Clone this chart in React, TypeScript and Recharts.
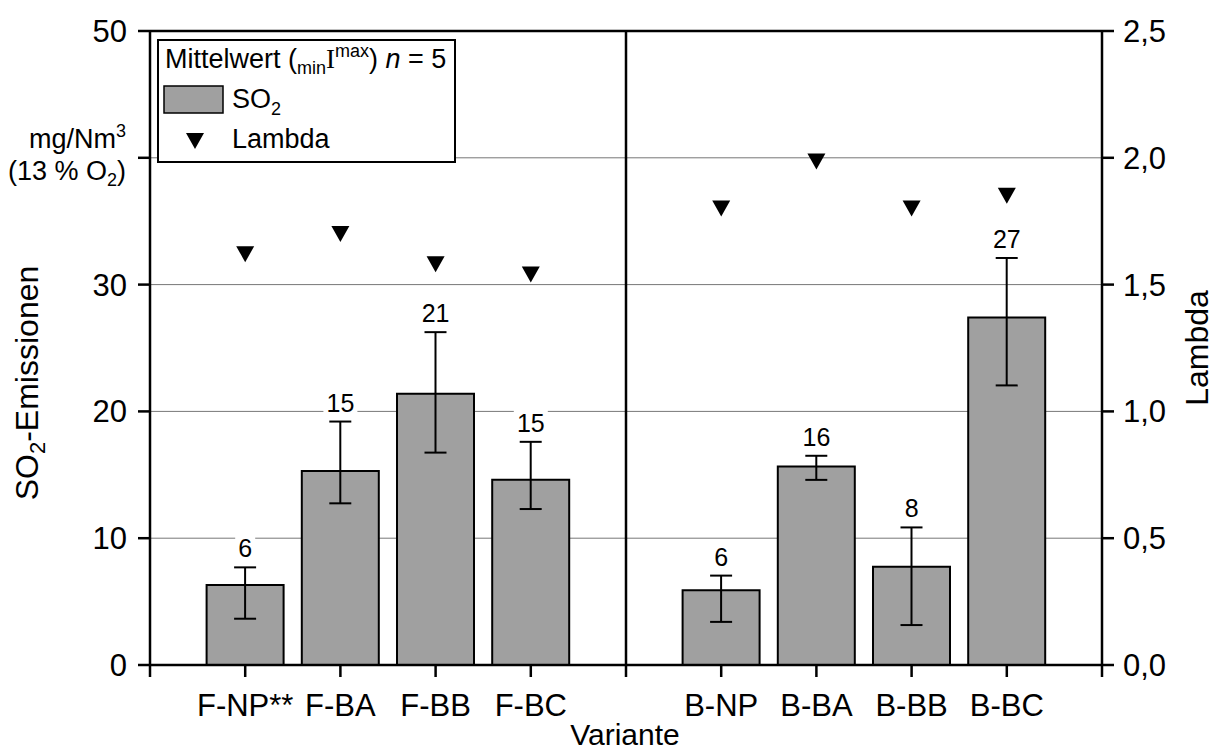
import React from "react";
import {
  Bar,
  CartesianGrid,
  ComposedChart,
  ErrorBar,
  ReferenceLine,
  Scatter,
  XAxis,
  YAxis,
} from "recharts";

const categories = ["F-NP**", "F-BA", "F-BB", "F-BC", "B-NP", "B-BA", "B-BB", "B-BC"];
// slot auf der x-Achse (5 = Trennlinie zwischen F und B)
const slots = [1, 2, 3, 4, 6, 7, 8, 9];
const so2Mean = [6.3, 15.3, 21.4, 14.6, 5.9, 15.65, 7.75, 27.4];
const so2Min = [3.65, 12.75, 16.75, 12.3, 3.4, 14.6, 3.15, 22.05];
const so2Max = [7.7, 19.2, 26.25, 17.6, 7.05, 16.5, 10.85, 32.1];
const barLabels = ["6", "15", "21", "15", "6", "16", "8", "27"];
const lambdaValues = [1.62, 1.7, 1.58, 1.54, 1.8, 1.985, 1.8, 1.85];

const leftTicks = [0, 10, 20, 30, 40, 50];
const rightTicks = [0, 0.5, 1, 1.5, 2, 2.5];
const xTicks = [0, 1, 2, 3, 4, 5, 6, 7, 8, 9, 10];

const FONT = "'Liberation Sans', Arial, sans-serif";

const rows = categories.map((name, i) => ({
  x: slots[i],
  name,
  so2: so2Mean[i],
  err: [so2Mean[i] - so2Min[i], so2Max[i] - so2Mean[i]],
  max: so2Max[i],
  label: barLabels[i],
  lambda: lambdaValues[i],
}));

const xLabel = (v: number) => {
  const i = slots.indexOf(v);
  return i >= 0 ? categories[i] : "";
};

// Dreieck nach unten
const Triangle = (props: any) => {
  const { cx, cy } = props;
  if (cx == null || cy == null) return <g />;
  return <path d={`M${cx - 9},${cy - 8} L${cx + 9},${cy - 8} L${cx},${cy + 8} Z`} fill="#000" />;
};

// Wert über dem Fehlerbalken, mit weißem Hintergrund
const TopLabel = (props: any) => {
  const { cx, cy, payload } = props;
  if (cx == null || cy == null) return <g />;
  const w = payload.label.length * 14 + 6;
  return (
    <g>
      <rect x={cx - w / 2} y={cy - 33} width={w} height={24} fill="#fff" />
      <text x={cx} y={cy - 10} textAnchor="middle" fontSize={25} fontFamily={FONT} fill="#000">
        {payload.label}
      </text>
    </g>
  );
};

const axisStroke = { stroke: "#000", strokeWidth: 2.5 };

export default function App() {
  return (
    <div style={{ position: "fixed", left: 0, top: 0, width: 1216, height: 752, background: "#fff" }}>
      <ComposedChart
        width={1216}
        height={752}
        data={rows}
        margin={{ top: 31, right: 0, bottom: 0, left: 0 }}
        style={{ fontFamily: FONT }}
      >
        <CartesianGrid yAxisId="left" vertical={false} stroke="#777" strokeWidth={1} />
        <XAxis
          dataKey="x"
          type="number"
          domain={[0, 10]}
          ticks={xTicks}
          interval={0}
          height={87}
          tickFormatter={xLabel}
          tickSize={12}
          tickMargin={17}
          axisLine={axisStroke}
          tickLine={axisStroke}
          tick={{ fontSize: 31, fill: "#000", fontFamily: FONT }}
        />
        <YAxis
          yAxisId="left"
          orientation="left"
          domain={[0, 50]}
          ticks={leftTicks}
          width={150}
          tickSize={12}
          tickMargin={11}
          tickFormatter={(v: number) => (v === 40 ? "" : String(v))}
          axisLine={axisStroke}
          tickLine={axisStroke}
          tick={{ fontSize: 31, fill: "#000", fontFamily: FONT }}
        />
        <YAxis
          yAxisId="right"
          orientation="right"
          domain={[0, 2.5]}
          ticks={rightTicks}
          width={114}
          tickSize={12}
          tickMargin={9}
          tickFormatter={(v: number) => v.toFixed(1).replace(".", ",")}
          axisLine={axisStroke}
          tickLine={axisStroke}
          tick={{ fontSize: 31, fill: "#000", fontFamily: FONT }}
        />

        <ReferenceLine yAxisId="left" y={50} stroke="#000" strokeWidth={2.5} />
        <ReferenceLine yAxisId="left" x={5} stroke="#000" strokeWidth={2.5} />

        <Bar
          yAxisId="left"
          dataKey="so2"
          barSize={77}
          fill="#a0a0a0"
          stroke="#000"
          strokeWidth={2}
          isAnimationActive={false}
        >
          <ErrorBar dataKey="err" width={11} stroke="#000" strokeWidth={2} direction="y" />
        </Bar>

        <Scatter yAxisId="left" dataKey="max" shape={TopLabel} isAnimationActive={false} />
        <Scatter yAxisId="right" dataKey="lambda" shape={Triangle} isAnimationActive={false} />

        {/* Achsentitel */}
        <text
          transform="translate(38,383) rotate(-90)"
          textAnchor="middle"
          fontSize={32}
          fontFamily={FONT}
          fill="#000"
        >
          SO
          <tspan fontSize={22} dy={7}>2</tspan>
          <tspan dy={-7}>-Emissionen</tspan>
        </text>
        <text textAnchor="end" x={126} y={148} fontSize={27} fontFamily={FONT} fill="#000">
          mg/Nm
          <tspan fontSize={18} dy={-11}>3</tspan>
        </text>
        <text textAnchor="end" x={126} y={180} fontSize={27} fontFamily={FONT} fill="#000">
          (13 % O
          <tspan fontSize={18} dy={6}>2</tspan>
          <tspan dy={-6}>)</tspan>
        </text>
        <text
          transform="translate(1208,348) rotate(-90)"
          textAnchor="middle"
          fontSize={32}
          fontFamily={FONT}
          fill="#000"
        >
          Lambda
        </text>
        <text x={625} y={745} textAnchor="middle" fontSize={30} fontFamily={FONT} fill="#000">
          Variante
        </text>

        {/* Legende */}
        <g>
          <rect x={158} y={40} width={297} height={122} fill="#fff" stroke="#000" strokeWidth={2} />
          <text x={165} y={68} fontSize={27} fontFamily={FONT} fill="#000">
            Mittelwert (
            <tspan fontSize={18} dy={6}>min</tspan>
            <tspan dy={-6} fontFamily="'Liberation Serif', serif">I</tspan>
            <tspan fontSize={18} dy={-11}>max</tspan>
            <tspan dy={11}>) </tspan>
            <tspan fontStyle="italic">n</tspan>
            <tspan> = 5</tspan>
          </text>
          <rect x={164} y={86} width={59} height={27} fill="#a0a0a0" stroke="#000" strokeWidth={1.5} />
          <text x={232} y={108} fontSize={27} fontFamily={FONT} fill="#000">
            SO
            <tspan fontSize={18} dy={7}>2</tspan>
          </text>
          <path d="M186,133 L204,133 L195,149 Z" fill="#000" />
          <text x={232} y={148} fontSize={27} fontFamily={FONT} fill="#000">
            Lambda
          </text>
        </g>
      </ComposedChart>
    </div>
  );
}
